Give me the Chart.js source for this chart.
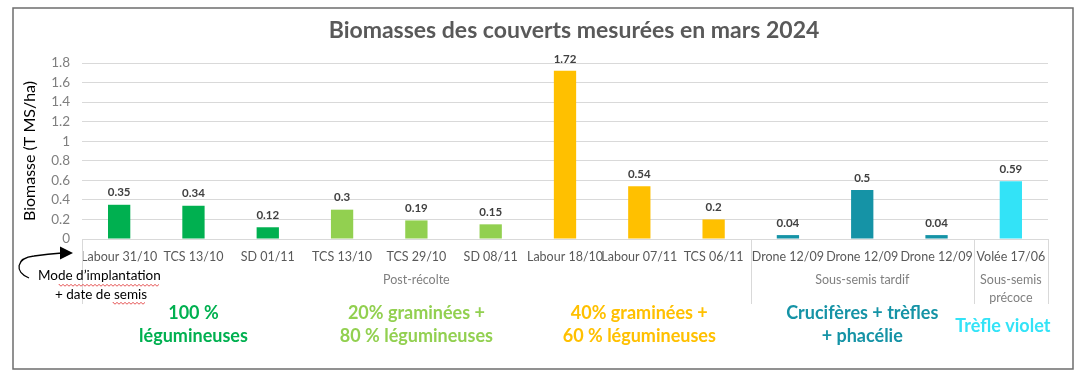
<!DOCTYPE html>
<html lang="fr">
<head>
<meta charset="utf-8">
<title>Biomasses des couverts mesurées en mars 2024</title>
<script src="https://cdn.jsdelivr.net/npm/chart.js@4.4.1/dist/chart.umd.min.js"></script>
<style>
  html, body { margin: 0; padding: 0; background: #fff; }
  #wrap { position: relative; width: 1085px; height: 381px; }
</style>
</head>
<body>
<div id="wrap"><canvas id="chart" width="1085" height="381"></canvas></div>
<script>
// Données
const titre = 'Biomasses des couverts mesurées en mars 2024';
const categories = [
  'Labour 31/10', 'TCS 13/10', 'SD 01/11',
  'TCS 13/10', 'TCS 29/10', 'SD 08/11',
  'Labour 18/10', 'Labour 07/11', 'TCS 06/11',
  'Drone 12/09', 'Drone 12/09', 'Drone 12/09',
  'Volée 17/06'
];
const biomasse = [0.35, 0.34, 0.12, 0.3, 0.19, 0.15, 1.72, 0.54, 0.2, 0.04, 0.5, 0.04, 0.59];
// mélange de chaque barre (index dans melanges)
const melangeIdx = [0, 0, 0, 1, 1, 1, 2, 2, 2, 3, 3, 3, 4];
const melanges = [
  ['100 %', 'légumineuses'],
  ['20% graminées +', '80 % légumineuses'],
  ['40% graminées +', '60 % légumineuses'],
  ['Crucifères + trèfles', '+ phacélie'],
  ['Trèfle violet']
];
// groupes de la 2e ligne de l'axe X : [libellé, premier index, dernier index]
const groupes = [
  [['Post-récolte'], 0, 8],
  [['Sous-semis tardif'], 9, 11],
  [['Sous-semis', 'précoce'], 12, 12]
];
const yTicks = [0, 0.2, 0.4, 0.6, 0.8, 1, 1.2, 1.4, 1.6, 1.8];

const couleurs = ['#00B050', '#92D050', '#FFC000', '#1593A6', '#33E3F7'];
const FONT = 'Lato, "Open Sans", sans-serif';

// Dessins autour du graphique : cadre, titre, niveaux de l'axe, textes des mélanges, flèche
const decor = {
  id: 'decor',
  afterDraw(chart) {
    const ctx = chart.ctx;
    const x = chart.scales.x;
    const area = chart.chartArea;
    const half = (x.getPixelForValue(1) - x.getPixelForValue(0)) / 2;
    ctx.save();

    // cadre
    ctx.strokeStyle = '#6d6d6d';
    ctx.lineWidth = 1.5;
    ctx.strokeRect(13, 8, 1060, 361);

    // titre
    ctx.fillStyle = '#595959';
    ctx.font = 'bold 23px ' + FONT;
    ctx.textAlign = 'center';
    ctx.textBaseline = 'middle';
    ctx.fillText(titre, 574, 31);

    // séparateurs de groupes
    ctx.strokeStyle = '#d9d9d9';
    ctx.lineWidth = 1;
    const bounds = [0];
    groupes.forEach(g => bounds.push(g[2] + 1));
    bounds.forEach(i => {
      const px = Math.round(x.getPixelForValue(i) - half) + 0.5;
      ctx.beginPath();
      ctx.moveTo(px, area.bottom);
      ctx.lineTo(px, area.bottom + 65);
      ctx.stroke();
    });

    // libellés de groupes
    ctx.fillStyle = '#7f7f7f';
    ctx.font = '12.5px ' + FONT;
    groupes.forEach(g => {
      const cx = (x.getPixelForValue(g[1]) + x.getPixelForValue(g[2])) / 2;
      g[0].forEach((line, k) => ctx.fillText(line, cx, area.bottom + 41 + k * 18));
    });

    // textes des mélanges
    ctx.font = 'bold 18px ' + FONT;
    melanges.forEach((lines, m) => {
      const idx = melangeIdx.map((v, i) => v === m ? i : -1).filter(i => i >= 0);
      const cx = (x.getPixelForValue(idx[0]) + x.getPixelForValue(idx[idx.length - 1])) / 2 - (m === 4 ? 8 : 0);
      ctx.fillStyle = couleurs[m];
      const y0 = lines.length === 1 ? 326 : 313;
      lines.forEach((line, k) => ctx.fillText(line, cx, y0 + k * 23));
    });

    // annotation "Mode d'implantation"
    ctx.fillStyle = '#000';
    ctx.font = '13.5px ' + FONT;
    ctx.textAlign = 'left';
    ctx.fillText('Mode d\u2019implantation', 38, 276);
    ctx.fillText('+ date de semis', 55, 295);

    // soulignement rouge (correcteur)
    ctx.strokeStyle = '#e03030';
    ctx.lineWidth = 0.8;
    const wavy = (x0, x1, y) => {
      ctx.beginPath();
      ctx.moveTo(x0, y);
      for (let px = x0; px <= x1; px += 2) ctx.lineTo(px, y + ((px - x0) / 2 % 2 ? 1.2 : -0.6));
      ctx.stroke();
    };
    wavy(59, 160, 285);
    wavy(113, 146, 303);

    // flèche
    ctx.strokeStyle = '#000';
    ctx.lineWidth = 1.3;
    ctx.beginPath();
    ctx.moveTo(29, 278);
    ctx.bezierCurveTo(14, 272, 16, 258, 34, 256);
    ctx.quadraticCurveTo(48, 254, 62, 253);
    ctx.stroke();
    ctx.fillStyle = '#000';
    ctx.beginPath();
    ctx.moveTo(73, 253);
    ctx.lineTo(60, 246.5);
    ctx.lineTo(60, 259.5);
    ctx.closePath();
    ctx.fill();

    ctx.restore();
  }
};

// Valeurs au-dessus des barres
const valeurs = {
  id: 'valeurs',
  afterDatasetsDraw(chart) {
    const ctx = chart.ctx;
    ctx.save();
    ctx.fillStyle = '#404040';
    ctx.font = 'bold 11.5px ' + FONT;
    ctx.textAlign = 'center';
    ctx.textBaseline = 'middle';
    chart.getDatasetMeta(0).data.forEach((bar, i) => {
      ctx.fillText(String(biomasse[i]), bar.x, bar.y - 12);
    });
    ctx.restore();
  }
};

new Chart(document.getElementById('chart'), {
  type: 'bar',
  data: {
    labels: categories,
    datasets: [{
      label: 'Biomasse',
      data: biomasse,
      backgroundColor: melangeIdx.map(m => couleurs[m]),
      categoryPercentage: 1,
      barPercentage: 0.3
    }]
  },
  options: {
    responsive: false,
    animation: false,
    layout: { padding: { left: 14, right: 37, top: 63, bottom: 0 } },
    plugins: {
      legend: { display: false },
      tooltip: { enabled: false },
      title: { display: false }
    },
    scales: {
      x: {
        grid: { display: false, drawTicks: false },
        border: { color: '#d9d9d9' },
        ticks: {
          color: '#595959',
          font: { family: FONT, size: 12.5 },
          padding: 10,
          autoSkip: false,
          maxRotation: 0
        },
        afterFit: s => { s.height = 142; }
      },
      y: {
        min: 0,
        max: 1.8,
        afterBuildTicks: s => { s.ticks = yTicks.map(v => ({ value: v })); },
        grid: { color: '#d9d9d9', drawTicks: false },
        border: { display: false },
        ticks: {
          color: '#7f7f7f',
          font: { family: FONT, size: 13.5 },
          padding: 12,
          callback: v => String(+v.toFixed(1))
        },
        title: {
          display: true,
          text: 'Biomasse (T MS/ha)',
          color: '#000',
          font: { family: FONT, size: 16 },
          padding: { top: 6, bottom: 0 }
        },
        afterFit: s => { s.width = 68; }
      }
    }
  },
  plugins: [decor, valeurs]
});
</script>
</body>
</html>
